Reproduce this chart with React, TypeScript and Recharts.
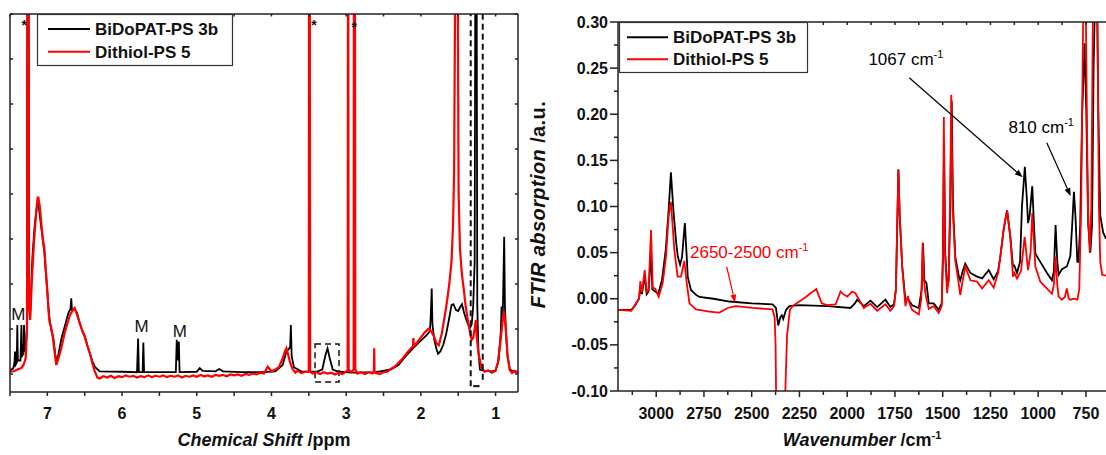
import React from 'react';
import { LineChart, Line, XAxis, YAxis, ReferenceLine, ReferenceArea, ReferenceDot, Legend } from 'recharts';

const FONT = '"Liberation Sans", Arial, Helvetica, sans-serif';
const AXIS = '#222';
const seriesNames = ['BiDoPAT-PS 3b', 'Dithiol-PS 5'];
const seriesColors = ['#000000', '#ff0000'];

// ---------- 1H NMR (chemical shift ppm, intensity a.u.) ----------
const nmrBlack: [number, number][] = [
  [7.5, 0.08], [7.46, 0.12], [7.44, 0.25], [7.433, 0.5], [7.426, 0.2], [7.41, 0.25], [7.402, 1.09], [7.395, 0.3],
  [7.36, 0.3], [7.347, 1.09], [7.34, 0.4], [7.32, 0.45], [7.312, 1.09], [7.305, 0.5], [7.29, 0.6], [7.275, 1.0],
  [7.265, 10], [7.252, 10], [7.245, 1.5], [7.23, 1.3], [7.2, 2.6], [7.17, 3.3], [7.14, 3.7], [7.12, 3.8],
  [7.1, 3.5], [7.07, 3.1], [7.04, 2.7], [7.0, 1.8], [6.97, 1.2], [6.95, 1.0], [6.92, 0.8], [6.88, 0.25],
  [6.85, 0.45], [6.81, 0.8], [6.76, 1.1], [6.72, 1.35], [6.69, 1.45], [6.68, 1.68], [6.67, 1.4], [6.64, 1.45],
  [6.6, 1.35], [6.57, 1.15], [6.53, 0.95], [6.5, 0.85], [6.45, 0.55], [6.4, 0.3], [6.36, 0.15], [6.3, 0.06],
  [6.0, 0.05], [5.8, 0.04], [5.785, 0.79], [5.775, 0.04], [5.725, 0.04], [5.715, 0.7], [5.705, 0.04],
  [5.5, 0.04], [5.28, 0.04], [5.268, 0.76], [5.255, 0.3], [5.24, 0.72], [5.23, 0.04], [5.0, 0.05], [4.96, 0.13],
  [4.92, 0.07], [4.75, 0.06], [4.7, 0.11], [4.65, 0.06], [4.4, 0.04], [4.1, 0.04], [3.95, 0.06], [3.85, 0.2],
  [3.8, 0.5], [3.77, 0.55], [3.75, 0.6], [3.74, 1.09], [3.73, 0.4], [3.7, 0.15], [3.6, 0.06], [3.4, 0.05],
  [3.32, 0.1], [3.28, 0.4], [3.25, 0.57], [3.22, 0.35], [3.18, 0.1], [3.1, 0.05], [2.9, 0.03], [2.6, 0.04],
  [2.4, 0.1], [2.3, 0.2], [2.2, 0.4], [2.1, 0.58], [2.0, 0.74], [1.93, 0.85], [1.88, 0.95], [1.87, 1.2],
  [1.855, 1.9], [1.845, 1.1], [1.82, 0.75], [1.79, 0.55], [1.77, 0.45], [1.74, 0.5], [1.7, 0.65], [1.66, 0.9],
  [1.62, 1.25], [1.59, 1.53], [1.565, 1.55], [1.53, 1.42], [1.5, 1.4], [1.47, 1.5], [1.45, 1.55], [1.42, 1.35],
  [1.38, 1.15], [1.345, 1.02], [1.32, 1.1], [1.3, 1.5], [1.28, 2.5], [1.27, 10], [1.255, 10], [1.245, 1.5],
  [1.23, 0.53], [1.21, 0.1], [1.15, 0.07], [1.05, 0.06], [1.0, 0.08], [0.96, 0.3], [0.93, 0.95], [0.92, 1.5],
  [0.905, 1.2], [0.885, 3.05], [0.875, 1.5], [0.86, 0.9], [0.84, 0.4], [0.81, 0.1], [0.75, 0.05], [0.7, 0.05],
];

const nmrRed: [number, number][] = [
  [7.5, 0.05], [7.45, 0.06], [7.4, 0.1], [7.35, 0.13], [7.32, 0.2], [7.29, 0.35], [7.272, 1.0], [7.265, 12],
  [7.252, 12], [7.245, 1.5], [7.23, 1.2], [7.21, 2.0], [7.18, 2.9], [7.15, 3.6], [7.13, 3.92], [7.12, 3.92],
  [7.1, 3.7], [7.085, 3.42], [7.06, 3.0], [7.04, 2.8], [7.02, 2.3], [7.0, 1.85], [6.985, 1.4], [6.97, 1.15],
  [6.95, 1.05], [6.93, 0.85], [6.9, 0.45], [6.88, 0.2], [6.85, 0.35], [6.81, 0.6], [6.77, 0.9], [6.745, 1.05],
  [6.7, 1.3], [6.66, 1.42], [6.635, 1.47], [6.6, 1.3], [6.567, 1.13], [6.53, 0.95], [6.5, 0.83], [6.46, 0.6],
  [6.43, 0.46], [6.4, 0.25], [6.37, 0.08], [6.33, -0.08], [6.3, -0.1], [6.25, -0.05], [6.2, -0.08], [6.15, -0.04],
  [6.1, -0.09], [6.05, -0.05], [6.0, -0.07], [5.95, -0.03], [5.9, -0.06], [5.85, -0.04], [5.8, -0.08], [5.75, -0.05],
  [5.7, -0.07], [5.65, -0.03], [5.6, -0.07], [5.55, -0.04], [5.5, -0.06], [5.45, -0.03], [5.4, -0.07], [5.35, -0.04],
  [5.3, -0.06], [5.25, -0.03], [5.2, -0.08], [5.15, -0.04], [5.1, -0.06], [5.05, -0.03], [5.0, -0.06], [4.95, -0.02],
  [4.9, -0.05], [4.85, -0.03], [4.8, -0.06], [4.75, -0.02], [4.7, -0.04], [4.65, -0.02], [4.6, -0.05], [4.55, -0.01],
  [4.5, -0.03], [4.45, -0.01], [4.4, -0.04], [4.35, 0.0], [4.3, -0.02], [4.25, 0.01], [4.2, -0.01], [4.15, 0.03],
  [4.1, 0.01], [4.05, 0.16], [4.0, 0.06], [3.95, 0.1], [3.9, 0.15], [3.85, 0.35], [3.82, 0.5], [3.8, 0.57],
  [3.78, 0.45], [3.75, 0.25], [3.72, 0.12], [3.68, 0.03], [3.65, 0.07], [3.6, 0.02], [3.55, 0.05], [3.5, 0.05],
  [3.496, 12], [3.488, 12], [3.483, 0.05], [3.45, 0.01], [3.4, 0.04], [3.35, 0.0], [3.3, 0.04], [3.25, 0.01],
  [3.2, 0.03], [3.15, -0.01], [3.1, 0.03], [3.05, 0.0], [2.98, 0.08], [2.974, 12], [2.967, 0.1], [2.93, 0.04],
  [2.9, 0.1], [2.896, 12], [2.884, 12], [2.878, 0.1], [2.85, 0.01], [2.8, 0.04], [2.75, 0.0], [2.7, 0.04],
  [2.65, 0.01], [2.63, 0.03], [2.625, 0.57], [2.62, 0.03], [2.55, 0.0], [2.5, 0.04], [2.45, 0.05], [2.4, 0.12],
  [2.35, 0.16], [2.3, 0.25], [2.25, 0.33], [2.19, 0.46], [2.105, 0.62], [2.1, 0.8], [2.095, 0.62], [2.05, 0.7],
  [2.01, 0.79], [1.95, 0.92], [1.9, 1.0], [1.87, 0.97], [1.83, 0.85], [1.79, 0.68], [1.76, 0.64], [1.72, 0.9],
  [1.68, 1.3], [1.654, 1.57], [1.62, 2.0], [1.59, 2.5], [1.57, 3.3], [1.555, 4.5], [1.53, 12], [1.515, 12],
  [1.495, 4.0], [1.476, 2.76], [1.45, 2.2], [1.43, 1.94], [1.4, 1.5], [1.365, 1.13], [1.34, 0.9], [1.32, 0.76],
  [1.3, 0.8], [1.28, 1.0], [1.265, 1.2], [1.25, 0.8], [1.23, 0.46], [1.19, 0.16], [1.15, 0.05], [1.1, 0.08],
  [1.05, 0.03], [1.0, 0.07], [0.97, 0.25], [0.94, 0.65], [0.91, 1.1], [0.895, 1.35], [0.88, 1.3], [0.86, 0.9],
  [0.84, 0.4], [0.81, 0.09], [0.78, 0.02], [0.75, 0.07], [0.7, 0.04],
];

// ---------- FTIR (wavenumber cm-1, absorption a.u.) ----------
const ftirBlack: [number, number][] = [
  [3200, -0.012], [3130, -0.012], [3110, -0.007], [3090, 0.0], [3083, 0.012], [3075, 0.005], [3060, 0.025],
  [3050, 0.005], [3040, 0.008], [3027, 0.05], [3020, 0.01], [3005, 0.008], [2990, 0.005], [2970, 0.02],
  [2950, 0.053], [2935, 0.096], [2923, 0.137], [2910, 0.096], [2895, 0.06], [2887, 0.046], [2875, 0.037],
  [2865, 0.045], [2850, 0.082], [2840, 0.045], [2835, 0.024], [2818, 0.0095], [2790, 0.004], [2774, 0.002],
  [2700, 0.0], [2617, -0.003], [2500, -0.005], [2391, -0.006], [2373, -0.01], [2361, -0.029], [2350, -0.02],
  [2342, -0.018], [2335, -0.022], [2320, -0.012], [2303, -0.008], [2251, -0.007], [2100, -0.008], [1983, -0.01],
  [1960, -0.005], [1948, -0.001], [1913, -0.008], [1878, -0.002], [1843, -0.009], [1800, -0.001], [1774, -0.009],
  [1755, -0.006], [1745, 0.01], [1738, 0.08], [1732, 0.14], [1725, 0.09], [1712, 0.035], [1695, -0.002],
  [1683, 0.0], [1660, -0.007], [1625, -0.01], [1610, 0.01], [1603, 0.06], [1596, 0.02], [1585, 0.017],
  [1573, -0.005], [1547, -0.005], [1521, -0.012], [1505, -0.005], [1498, 0.05], [1493, 0.17], [1487, 0.05],
  [1477, 0.015], [1469, 0.02], [1460, 0.1], [1453, 0.215], [1446, 0.1], [1434, 0.045], [1416, 0.025],
  [1408, 0.02], [1395, 0.03], [1382, 0.038], [1355, 0.028], [1320, 0.024], [1294, 0.022], [1259, 0.031],
  [1233, 0.021], [1210, 0.03], [1198, 0.046], [1181, 0.075], [1163, 0.096], [1146, 0.067], [1132, 0.035],
  [1125, 0.036], [1111, 0.028], [1095, 0.04], [1085, 0.1], [1070, 0.143], [1060, 0.11], [1053, 0.082],
  [1045, 0.09], [1031, 0.122], [1022, 0.08], [1015, 0.049], [989, 0.04], [954, 0.028], [928, 0.02],
  [918, 0.03], [909, 0.08], [900, 0.04], [893, 0.026], [876, 0.032], [850, 0.035], [832, 0.046], [822, 0.08],
  [813, 0.116], [805, 0.09], [795, 0.04], [789, 0.04], [780, 0.08], [770, 0.2], [757, 0.277], [748, 0.2],
  [738, 0.08], [727, 0.05], [718, 0.08], [710, 0.25], [700, 0.35], [693, 0.35], [685, 0.2], [675, 0.09],
  [660, 0.072], [645, 0.065],
];

const ftirRed: [number, number][] = [
  [3200, -0.012], [3130, -0.013], [3106, -0.005], [3090, 0.0], [3083, 0.019], [3075, 0.007], [3060, 0.031],
  [3050, 0.007], [3040, 0.01], [3027, 0.0745], [3018, 0.012], [3005, 0.011], [2987, 0.002], [2966, 0.017],
  [2949, 0.045], [2935, 0.089], [2923, 0.105], [2905, 0.053], [2888, 0.024], [2870, 0.024], [2853, 0.041],
  [2840, 0.017], [2826, -0.005], [2792, -0.0115], [2722, -0.014], [2669, -0.015], [2626, -0.01], [2583, -0.008],
  [2495, -0.01], [2391, -0.0115], [2380, -0.02], [2375, -0.05], [2370, -0.15], [2345, -0.2], [2330, -0.15],
  [2324, -0.1], [2315, -0.04], [2300, -0.012], [2286, -0.008], [2251, -0.003], [2216, 0.002], [2192, 0.006],
  [2162, 0.0104], [2133, -0.005], [2105, -0.007], [2060, -0.006], [2035, 0.0077], [2020, 0.005], [2000, 0.0023],
  [1974, 0.0077], [1957, 0.006], [1935, -0.002], [1913, -0.01], [1878, -0.0055], [1843, -0.013], [1800, -0.006],
  [1774, -0.013], [1755, -0.008], [1745, 0.01], [1738, 0.08], [1732, 0.14], [1725, 0.09], [1712, 0.035],
  [1695, -0.008], [1683, 0.003], [1672, -0.006], [1660, -0.012], [1625, -0.017], [1612, 0.0], [1605, 0.061],
  [1598, 0.02], [1590, 0.005], [1573, -0.011], [1547, -0.008], [1521, -0.0155], [1505, -0.008], [1499, 0.05],
  [1494, 0.197], [1488, 0.05], [1477, 0.006], [1469, 0.02], [1462, 0.1], [1455, 0.221], [1448, 0.1],
  [1434, 0.041], [1416, 0.016], [1408, 0.004], [1395, 0.02], [1382, 0.035], [1355, 0.02], [1320, 0.0185],
  [1294, 0.011], [1259, 0.02], [1233, 0.012], [1210, 0.028], [1198, 0.046], [1181, 0.075], [1163, 0.096],
  [1146, 0.067], [1132, 0.024], [1125, 0.028], [1111, 0.022], [1090, 0.03], [1071, 0.067], [1053, 0.031],
  [1040, 0.05], [1031, 0.093], [1022, 0.06], [1015, 0.035], [989, 0.0185], [954, 0.011], [928, 0.0054],
  [918, 0.015], [910, 0.0456], [900, 0.015], [893, 0.0023], [876, -0.001], [860, 0.002], [850, 0.0113],
  [840, 0.0], [832, -0.001], [813, 0.0], [795, -0.001], [785, 0.01], [775, 0.1], [765, 0.3], [757, 0.4],
  [750, 0.3], [740, 0.1], [730, 0.05], [722, 0.1], [712, 0.35], [700, 0.4], [690, 0.3], [682, 0.1],
  [675, 0.04], [665, 0.026], [645, 0.025],
];

// ---------- axes ----------
const nmrShiftDomain = [0.7, 7.5];
const nmrIntDomain = [-0.4, 8];
const nmrShiftTicks = [7.5, 7, 6.5, 6, 5.5, 5, 4.5, 4, 3.5, 3, 2.5, 2, 1.5, 1];
const nmrIntTicks = [0, 1, 2, 3, 4, 5, 6, 7, 8];
const ftirWaveDomain = [645, 3200];
const ftirAbsDomain = [-0.1, 0.3];
const ftirWaveTicks = [3125, 3000, 2875, 2750, 2625, 2500, 2375, 2250, 2125, 2000, 1875, 1750, 1625, 1500, 1375, 1250, 1125, 1000, 875, 750];
const ftirAbsTicks = [-0.1, -0.075, -0.05, -0.025, 0, 0.025, 0.05, 0.075, 0.1, 0.125, 0.15, 0.175, 0.2, 0.225, 0.25, 0.275, 0.3];

// ---------- annotations ----------
const nmrStars: [number, number][] = [[7.31, 7.64], [3.43, 7.64], [2.891, 7.6]];
const nmrMLabels: [number, number][] = [[7.39, 1.2], [5.737, 0.94], [5.228, 0.83]];
const ftirPeakLabels = [
  { text: '1067 cm', x: 1889, y: 0.2534, color: '#000' },
  { text: '810 cm', x: 1156, y: 0.1793, color: '#000' },
  { text: '2650-2500 cm', x: 2823, y: 0.0438, color: '#ff0000' },
];
const ftirArrows = [
  { from: [1675, 0.2396], to: [1081, 0.1317], color: '#000' },
  { from: [955, 0.1692], to: [830, 0.1114], color: '#000' },
  { from: [2631, 0.0347], to: [2587, -0.0043], color: '#ff0000' },
];

const toData = (pairs: [number, number][]) => pairs.map(([x, y]) => ({ x, y }));

type TickCfg = {
  dir: 'up' | 'down' | 'left' | 'right';
  len: (v: number) => number;
  label?: (v: number) => string | null;
  lx?: number;
  ly?: number;
  anchor?: 'start' | 'middle' | 'end';
};

function makeTick(cfg: TickCfg) {
  return (props: any) => {
    const { x, y, payload } = props;
    const v = payload.value as number;
    const L = cfg.len(v);
    let x2 = x;
    let y2 = y;
    if (cfg.dir === 'down') y2 = y + L;
    if (cfg.dir === 'up') y2 = y - L;
    if (cfg.dir === 'left') x2 = x - L;
    if (cfg.dir === 'right') x2 = x + L;
    const lab = cfg.label ? cfg.label(v) : null;
    return (
      <g>
        <line x1={x} y1={y} x2={x2} y2={y2} stroke={AXIS} strokeWidth={1.5} />
        {lab !== null && (
          <text x={x + (cfg.lx || 0)} y={y + (cfg.ly || 0)} textAnchor={cfg.anchor || 'middle'}
            fontFamily={FONT} fontWeight="bold" fontSize={16} fill="#111">{lab}</text>
        )}
      </g>
    );
  };
}

const isMult = (v: number, m: number) => Math.abs(v / m - Math.round(v / m)) < 1e-6;

const nmrBottomTick = makeTick({ dir: 'down', len: () => 4, label: (v) => (Number.isInteger(v) ? String(v) : null), ly: 26.5 });
const nmrTopTick = makeTick({ dir: 'down', len: () => 2.5 });
const nmrLeftTick = makeTick({ dir: 'right', len: () => 3 });
const nmrRightTick = makeTick({ dir: 'left', len: () => 3 });
const ftirBottomTick = makeTick({ dir: 'down', len: (v) => (isMult(v, 250) ? 6 : 4), label: (v) => (isMult(v, 250) ? String(v) : null), ly: 27.5 });
const ftirTopTick = makeTick({ dir: 'down', len: () => 3 });
const ftirLeftTick = makeTick({
  dir: 'left', len: (v) => (isMult(v, 0.05) ? 8 : 4),
  label: (v) => (isMult(v, 0.05) ? (Math.abs(v) < 1e-9 ? '0.00' : v.toFixed(2)) : null),
  lx: -10, ly: 5.5, anchor: 'end',
});

const axisLine = { stroke: AXIS, strokeWidth: 1.5 };

const makeLegend = (w: number, h: number, lx1: number, lx2: number, tx: number, y0: number, dy: number) => (props: any) => {
  const items = props.payload || [];
  return (
    <svg width={w} height={h} style={{ display: 'block', overflow: 'visible' }}>
      <rect x={0.5} y={0.5} width={w - 1} height={h - 1} fill="#fff" stroke="#333" strokeWidth={1.2} />
      {items.map((it: any, i: number) => (
        <g key={i}>
          <line x1={lx1} x2={lx2} y1={y0 + i * dy} y2={y0 + i * dy} stroke={it.color} strokeWidth={2} />
          <text x={tx} y={y0 + i * dy + 6} fontFamily={FONT} fontWeight="bold" fontSize={17} fill="#111">{it.value}</text>
        </g>
      ))}
    </svg>
  );
};

const nmrTitle = (p: any) => {
  const vb = p.viewBox;
  return (
    <text x={vb.x + vb.width / 2} y={vb.y + 54} textAnchor="middle" fontFamily={FONT} fontWeight="bold" fontSize={18} fill="#111">
      <tspan fontStyle="italic">Chemical Shift</tspan>
      <tspan> /ppm</tspan>
    </text>
  );
};

const ftirXTitle = (p: any) => {
  const vb = p.viewBox;
  return (
    <text x={vb.x + vb.width / 2} y={vb.y + 55} textAnchor="middle" fontFamily={FONT} fontWeight="bold" fontSize={18} fill="#111">
      <tspan fontStyle="italic">Wavenumber</tspan>
      <tspan> /cm</tspan>
      <tspan dy={-7} fontSize={11}>-1</tspan>
    </text>
  );
};

const ftirYTitle = (p: any) => {
  const vb = p.viewBox;
  const cx = vb.x + 25;
  const cy = vb.y + vb.height / 2 - 2;
  return (
    <text transform={`translate(${cx},${cy}) rotate(-90)`} textAnchor="middle" fontFamily={FONT} fontWeight="bold"
      fontSize={20} letterSpacing={0.4} fill="#111">
      <tspan fontStyle="italic">FTIR absorption</tspan>
      <tspan> /a.u.</tspan>
    </text>
  );
};

const arrowShape = (color: string) => (props: any) => {
  const { x1, y1, x2, y2 } = props;
  const ang = Math.atan2(y2 - y1, x2 - x1);
  const L = 8;
  const W = 3;
  const bx = x2 - L * Math.cos(ang);
  const by = y2 - L * Math.sin(ang);
  const px = -Math.sin(ang) * W;
  const py = Math.cos(ang) * W;
  return (
    <g>
      <line x1={x1} y1={y1} x2={bx} y2={by} stroke={color} strokeWidth={1.2} />
      <polygon points={`${x2},${y2} ${bx + px},${by + py} ${bx - px},${by - py}`} fill={color} />
    </g>
  );
};

const textShape = (content: React.ReactNode, opts: { size: number; weight?: string; color?: string; anchor?: 'start' | 'middle' | 'end' }) => (props: any) => (
  <text x={props.cx} y={props.cy} textAnchor={opts.anchor || 'middle'} fontFamily={FONT} fontSize={opts.size}
    fontWeight={opts.weight || 'normal'} fill={opts.color || '#111'}>{content}</text>
);

export default function App() {
  return (
    <div style={{ position: 'absolute', left: 0, top: 0, width: 1106, height: 455, background: '#fff', overflow: 'hidden' }}>
      <div style={{ position: 'absolute', left: 0, top: 0 }}>
        <LineChart width={540} height={455} margin={{ top: 14, right: 22, bottom: 0, left: 10 }}>
          <XAxis xAxisId="b" dataKey="x" type="number" domain={nmrShiftDomain} reversed allowDataOverflow
            ticks={nmrShiftTicks} interval={0} tickSize={0} tickMargin={0} tickLine={false} tick={nmrBottomTick}
            height={63} axisLine={axisLine} label={{ content: nmrTitle }} />
          <XAxis xAxisId="t" orientation="top" mirror dataKey="x" type="number" domain={nmrShiftDomain} reversed allowDataOverflow
            ticks={nmrShiftTicks} interval={0} tickSize={0} tickMargin={0} tickLine={false} tick={nmrTopTick} axisLine={axisLine} />
          <YAxis yAxisId="l" mirror type="number" domain={nmrIntDomain} allowDataOverflow ticks={nmrIntTicks} interval={0}
            tickSize={0} tickMargin={0} tickLine={false} tick={nmrLeftTick} axisLine={axisLine} />
          <YAxis yAxisId="r" orientation="right" mirror type="number" domain={nmrIntDomain} allowDataOverflow ticks={nmrIntTicks} interval={0}
            tickSize={0} tickMargin={0} tickLine={false} tick={nmrRightTick} axisLine={axisLine} />
          <Legend layout="vertical" align="center" verticalAlign="middle"
            wrapperStyle={{ left: 37, top: 14, width: 196, height: 52, right: 'auto', bottom: 'auto' }}
            content={makeLegend(196, 52, 11, 53, 58, 15, 22.7)} />
          <Line xAxisId="b" yAxisId="l" data={toData(nmrBlack)} dataKey="y" name={seriesNames[0]} stroke={seriesColors[0]}
            strokeWidth={1.8} dot={false} activeDot={false} type="linear" isAnimationActive={false} />
          <Line xAxisId="b" yAxisId="l" data={toData(nmrRed)} dataKey="y" name={seriesNames[1]} stroke={seriesColors[1]}
            strokeWidth={2.2} dot={false} activeDot={false} type="linear" isAnimationActive={false} />
          <ReferenceArea xAxisId="b" yAxisId="l" x1={3.417} x2={3.096} y1={-0.18} y2={0.667} fill="none" fillOpacity={0}
            stroke="#111" strokeWidth={1.5} strokeDasharray="6 4" />
          <ReferenceLine xAxisId="b" yAxisId="l" segment={[{ x: 1.333, y: -0.27 }, { x: 1.333, y: 8 }]} stroke="#111" strokeWidth={2} strokeDasharray="6 4" />
          <ReferenceLine xAxisId="b" yAxisId="l" segment={[{ x: 1.172, y: -0.13 }, { x: 1.172, y: 8 }]} stroke="#111" strokeWidth={2} strokeDasharray="6 4" />
          <ReferenceLine xAxisId="b" yAxisId="l" segment={[{ x: 1.3, y: -0.27 }, { x: 1.215, y: -0.27 }]} stroke="#111" strokeWidth={2} />
          {nmrStars.map(([x, y], i) => (
            <ReferenceDot key={'s' + i} xAxisId="b" yAxisId="l" x={x} y={y} r={0} ifOverflow="visible"
              shape={textShape('*', { size: 14, weight: 'bold' })} />
          ))}
          {nmrMLabels.map(([x, y], i) => (
            <ReferenceDot key={'m' + i} xAxisId="b" yAxisId="l" x={x} y={y} r={0} ifOverflow="visible"
              shape={textShape('M', { size: 17 })} />
          ))}
        </LineChart>
      </div>
      <div style={{ position: 'absolute', left: 520, top: 0 }}>
        <LineChart width={586} height={455} margin={{ top: 22, right: 0, bottom: 0, left: 0 }}>
          <XAxis xAxisId="b" dataKey="x" type="number" domain={ftirWaveDomain} reversed allowDataOverflow
            ticks={ftirWaveTicks} interval={0} tickSize={0} tickMargin={0} tickLine={false} tick={ftirBottomTick}
            height={64} axisLine={axisLine} label={{ content: ftirXTitle }} />
          <XAxis xAxisId="t" orientation="top" mirror dataKey="x" type="number" domain={ftirWaveDomain} reversed allowDataOverflow
            ticks={ftirWaveTicks} interval={0} tickSize={0} tickMargin={0} tickLine={false} tick={ftirTopTick} axisLine={axisLine} />
          <YAxis yAxisId="l" type="number" domain={ftirAbsDomain} allowDataOverflow ticks={ftirAbsTicks} interval={0}
            width={98} tickSize={0} tickMargin={0} tickLine={false} tick={ftirLeftTick} axisLine={axisLine}
            label={{ content: ftirYTitle }} />
          <Legend layout="vertical" align="center" verticalAlign="middle"
            wrapperStyle={{ left: 99, top: 22, width: 189, height: 51, right: 'auto', bottom: 'auto' }}
            content={makeLegend(189, 51, 8, 49, 54, 15.3, 22)} />
          <Line xAxisId="b" yAxisId="l" data={toData(ftirBlack)} dataKey="y" name={seriesNames[0]} stroke={seriesColors[0]}
            strokeWidth={1.8} dot={false} activeDot={false} type="linear" isAnimationActive={false} />
          <Line xAxisId="b" yAxisId="l" data={toData(ftirRed)} dataKey="y" name={seriesNames[1]} stroke={seriesColors[1]}
            strokeWidth={1.8} dot={false} activeDot={false} type="linear" isAnimationActive={false} />
          {ftirArrows.map((a, i) => (
            <ReferenceLine key={'a' + i} xAxisId="b" yAxisId="l" segment={[{ x: a.from[0], y: a.from[1] }, { x: a.to[0], y: a.to[1] }]}
              ifOverflow="visible" shape={arrowShape(a.color)} />
          ))}
          {ftirPeakLabels.map((t, i) => (
            <ReferenceDot key={'t' + i} xAxisId="b" yAxisId="l" x={t.x} y={t.y} r={0} ifOverflow="visible"
              shape={textShape(<>{t.text}<tspan dy={-7} fontSize={11}>-1</tspan></>, { size: 17, color: t.color, anchor: 'start' })} />
          ))}
        </LineChart>
      </div>
    </div>
  );
}
